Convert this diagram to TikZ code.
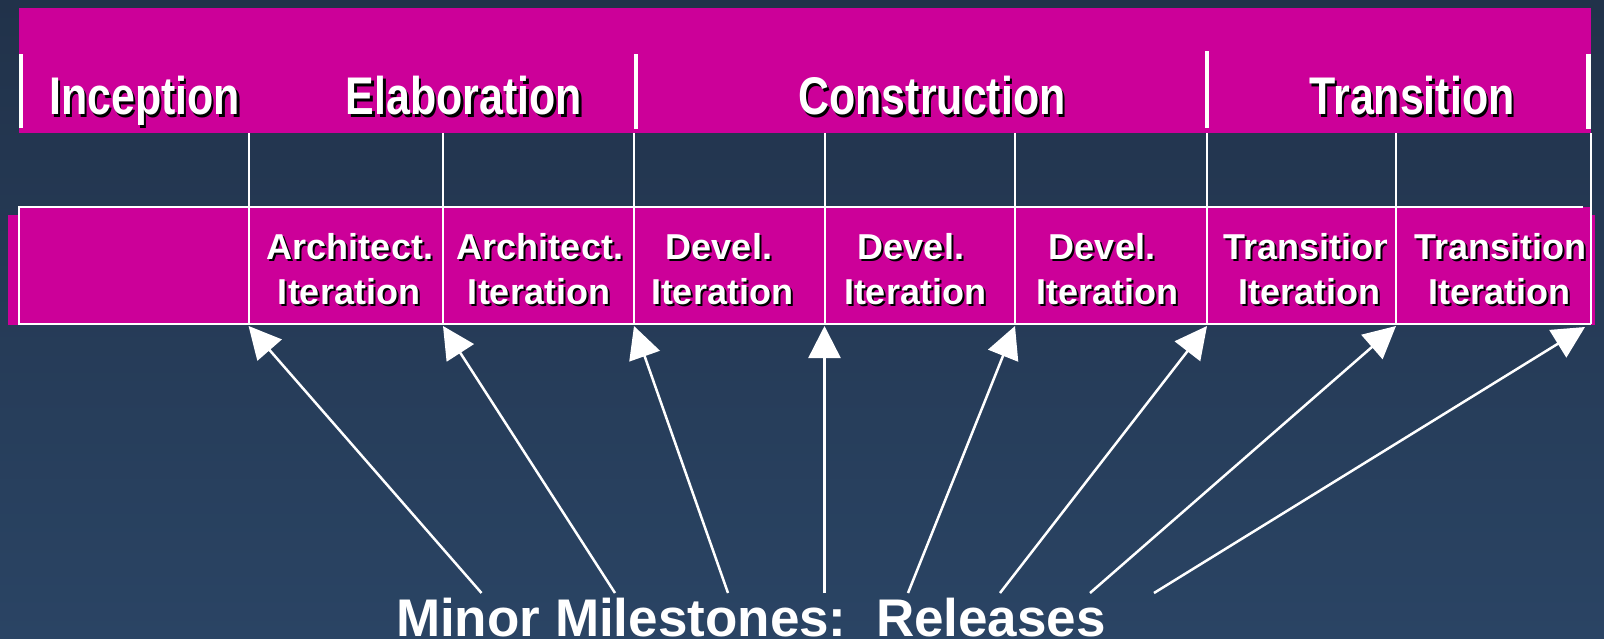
\documentclass[tikz,border=0pt]{standalone}
\usepackage{fontspec}
\setmainfont{Liberation Sans}
\usetikzlibrary{arrows.meta}
\definecolor{mag}{RGB}{204,0,153}
\definecolor{bgtop}{RGB}{33,50,74}
\definecolor{bgbot}{RGB}{42,68,100}
\newcommand\shtxt[2]{\makebox[0pt][l]{\hspace*{#1}\raisebox{-#1}{\color{black}#2}}#2}
\begin{document}
\begin{tikzpicture}[x=1pt,y=-1pt,
  phase/.style={text=white, font=\bfseries\fontsize{53}{60}\selectfont, anchor=base, inner sep=0pt},
  iter/.style={text=white, font=\bfseries\fontsize{36}{43}\selectfont, anchor=base, inner sep=0pt},
  caption/.style={text=white, font=\bfseries\fontsize{53}{60}\selectfont, anchor=base, inner sep=0pt},
  gridline/.style={white, line width=2pt},
  phasebar/.style={white, line width=4.5pt},
  arr/.style={white, line width=2.5pt, -{Triangle[length=32pt,width=32pt]}},
]
\useasboundingbox (0,0) rectangle (1604,638);
% background
\shade[top color=bgtop, bottom color=bgbot] (0,0) rectangle (1604,638);

% phase band
\fill[mag] (19,8) rectangle (1591,133);
\draw[phasebar] (21,54) -- (21,128);
\draw[phasebar] (636,54) -- (636,129);
\draw[phasebar] (1207,51) -- (1207,128);
\draw[phasebar] (1588.5,54) -- (1588.5,129);

\node[phase] (inc) at (144.5,114) {\scalebox{0.81}[1]{\shtxt{3pt}{Inception}}};
\node[phase] (ela) at (464,114) {\scalebox{0.81}[1]{\shtxt{3pt}{Elaboration}}};
\node[phase] (con) at (932,114) {\scalebox{0.81}[1]{\shtxt{3pt}{Construction}}};
\node[phase] (tra) at (1412,114) {\scalebox{0.81}[1]{\shtxt{3pt}{Transition}}};

% iteration row fill
\fill[mag] (8,215) rectangle (1595,325);
\fill[mag] (19,207) rectangle (1591,323);

% grid
\draw[gridline] (19,207) -- (1583,207);
\draw[gridline] (19,206) -- (19,324) -- (1591,324);
\foreach \x in {248.6,443,634,824.5,1015,1207,1396,1591}
  \draw[gridline] (\x,133) -- (\x,324);

% iteration labels
\node[iter] (a1) at (350,259) {\shtxt{2pt}{Architect.}};
\node[iter] (a2) at (349,304) {\shtxt{2pt}{Iteration}};
\node[iter] (b1) at (540,259) {\shtxt{2pt}{Architect.}};
\node[iter] (b2) at (539,304) {\shtxt{2pt}{Iteration}};
\node[iter] (d1) at (719,259) {\shtxt{2pt}{Devel.}};
\node[iter] (d2) at (722,304) {\shtxt{2pt}{Iteration}};
\node[iter] (e1) at (911,259) {\shtxt{2pt}{Devel.}};
\node[iter] (e2) at (915,304) {\shtxt{2pt}{Iteration}};
\node[iter] (f1) at (1102,259) {\shtxt{2pt}{Devel.}};
\node[iter] (f2) at (1107,304) {\shtxt{2pt}{Iteration}};
\begin{scope}
  \clip (1208,208) rectangle (1386,323);
  \node[iter] (g1) at (1309,259) {\shtxt{2pt}{Transition}};
\end{scope}
\node[iter] (g2) at (1309.5,304) {\shtxt{2pt}{Iteration}};
\node[iter] (h1) at (1500,259) {\shtxt{2pt}{Transition}};
\node[iter] (h2) at (1499,304) {\shtxt{2pt}{Iteration}};

% caption
\node[caption] (cap) at (751,636) {Minor Milestones:~~Releases};

% arrow endpoints
\coordinate (m1) at (481.5,593);
\coordinate (m2) at (615,593);
\coordinate (m3) at (728,593);
\coordinate (m4) at (824.5,593);
\coordinate (m5) at (908,593);
\coordinate (m6) at (1000,593);
\coordinate (m7) at (1090,593);
\coordinate (m8) at (1154,593);
\coordinate (t1) at (248.6,326);
\coordinate (t2) at (443,326);
\coordinate (t3) at (634,326);
\coordinate (t4) at (824.5,326);
\coordinate (t5) at (1015,326);
\coordinate (t6) at (1207,326);
\coordinate (t7) at (1396,326);
\coordinate (t8) at (1585,327);
\foreach \i in {1,...,8}
  \draw[arr] (m\i) -- (t\i);
\end{tikzpicture}
\end{document}
